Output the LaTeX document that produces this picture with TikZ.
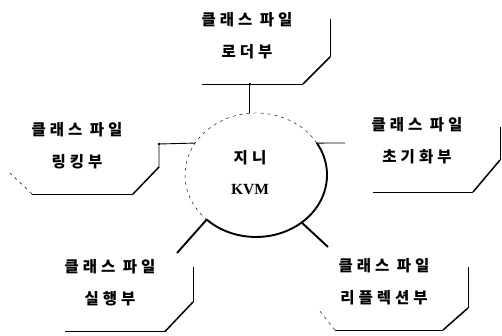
\documentclass[tikz,border=0pt]{standalone}
\usepackage{fontspec}
\newfontfamily\kr{Noto Sans CJK KR}[LetterSpace=26]
\newfontfamily\lser{Liberation Serif}
\usetikzlibrary{shapes.geometric}
\begin{document}
\begin{tikzpicture}[x=1pt,y=1pt,
  lbl/.style={align=center, font=\kr\bfseries\fontsize{15.5}{32}\selectfont, inner sep=0pt},
  edge/.style={line width=0.9pt},
  diag/.style={line width=1.5pt},
  thindash/.style={line width=0.45pt, dash pattern=on 3pt off 4pt},
  spoke/.style={line width=1.9pt},
  dot/.style={circle, fill, inner sep=0pt, minimum size=2.6pt}]
\useasboundingbox (0,0) rectangle (502,335);
% central ellipse
\node[ellipse, minimum width=142pt, minimum height=124pt, inner sep=0pt] (kvm) at (256,160) {};
\draw[line width=1.9pt] (kvm.center) ++(31:71 and 62) arc[start angle=31, end angle=-134, x radius=71, y radius=62];
\draw[thindash] (kvm.center) ++(31:71 and 62) arc[start angle=31, end angle=226, x radius=71, y radius=62];
\node[align=center, inner sep=0pt, font=\fontsize{15.5}{31}\selectfont] (kvmtext) at (250,162)
  {{\kr\bfseries 지니}\\{\lser\bfseries KVM}};
% points on the ellipse
\path (kvm.center) ++(95:71 and 62) coordinate (eTop);
\path (kvm.center) ++(149:71 and 62) coordinate (eLeft);
\path (kvm.center) ++(31:71 and 62) coordinate (eRight);
\path (kvm.center) ++(-134:71 and 62) coordinate (eBL);
\path (kvm.center) ++(-50:71 and 62) coordinate (eBR);
% labels
\node[lbl] (loader) at (247,299) {클래스 파일\\로더부};
\node[lbl] (link) at (77,189) {클래스 파일\\링킹부};
\node[lbl] (init) at (417,194) {클래스 파일\\초기화부};
\node[lbl] (exec) at (110,52) {클래스 파일\\실행부};
\node[lbl] (refl) at (384,53) {클래스 파일\\리플렉션부};
% top box
\node[dot] (tj) at (eTop |- 0,251) {};
\coordinate (t1) at (202,251);
\coordinate (t2) at (303,251);
\coordinate (t3) at (330,278);
\coordinate (t4) at (330,316);
\draw[edge] (eTop) -- (tj.center);
\draw[edge] (t1) -- (t2);
\draw[diag] (t2) -- (t3);
\draw[edge] (t3) -- (t4);
% left box
\node[dot] (lj) at (159,191) {};
\coordinate (l2) at (159,168);
\coordinate (l3) at (133,141);
\coordinate (l4) at (32,141);
\coordinate (l5) at (10,162);
\draw[edge] (eLeft) -- (lj.center) -- (l2);
\draw[diag] (l2) -- (l3);
\draw[edge] (l3) -- (l4);
\draw[thindash] (l4) -- (l5);
% right box
\coordinate (rj) at (345,192);
\coordinate (r1) at (373,143);
\coordinate (r2) at (473,143);
\coordinate (r3) at (500,175);
\coordinate (r4) at (500,208);
\draw[edge] (eRight) -- (rj);
\draw[edge] (r1) -- (r2);
\draw[diag] (r2) -- (r3);
\draw[edge] (r3) -- (r4);
% bottom-left box
\coordinate (bl0) at (177,82);
\coordinate (b1) at (193,68);
\coordinate (b2) at (193,33);
\coordinate (b3) at (165,3.5);
\coordinate (b4) at (65,3.5);
\draw[spoke] (eBL) -- (bl0);
\draw[edge] (b1) -- (b2);
\draw[diag] (b2) -- (b3);
\draw[edge] (b3) -- (b4);
% bottom-right box
\coordinate (br0) at (328,88);
\coordinate (c1) at (468,68);
\coordinate (c2) at (468,27);
\coordinate (c3) at (443,5);
\coordinate (c4) at (335,5);
\coordinate (c5) at (319,25);
\draw[spoke] (eBR) -- (br0);
\draw[edge] (c1) -- (c2);
\draw[diag] (c2) -- (c3);
\draw[edge] (c3) -- (c4);
\draw[thindash] (c4) -- (c5);
\end{tikzpicture}
\end{document}
